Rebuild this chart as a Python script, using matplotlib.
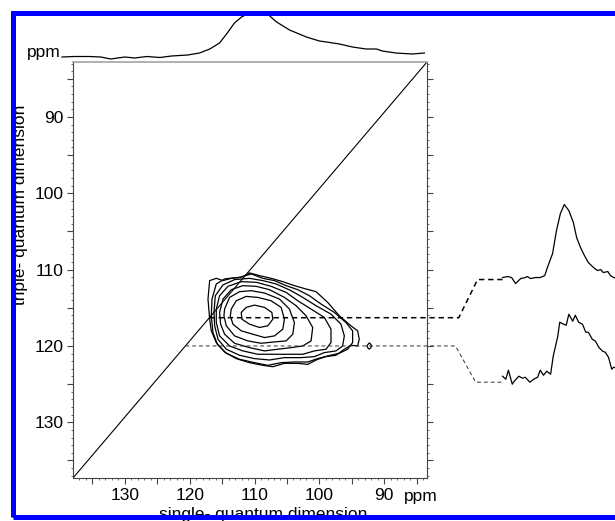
import numpy as np
import matplotlib
matplotlib.use("Agg")
from matplotlib import pyplot as plt
from matplotlib.patches import Rectangle
from matplotlib.ticker import FuncFormatter

plt.rcParams['font.family'] = ['Liberation Sans', 'DejaVu Sans']

# 2D contour levels (outer to inner), single-quantum ppm (x) / triple-quantum ppm (y)
c1_x = [116.92, 117.18, 116.92, 115.90, 114.87, 113.59, 112.05, 110.77, 109.23, 107.44, 105.64, 103.85,
        102.05, 100.51, 98.72, 96.92, 95.13, 94.10, 93.85, 94.10, 95.13, 96.15, 97.44, 98.98, 100.26,
        101.80, 103.33, 105.39, 107.18, 108.72, 110.77, 112.82, 114.62, 115.90, 116.67]
c1_y = [116.49, 113.86, 111.44, 111.14, 111.44, 111.14, 111.01, 110.43, 110.79, 111.14, 111.58, 112.10,
        112.54, 112.89, 114.29, 116.05, 117.36, 118.02, 119.12, 120.00, 119.91, 120.43, 121.22, 121.40,
        121.75, 122.41, 122.28, 122.28, 122.72, 122.54, 122.19, 121.66, 120.79, 119.56, 118.02]
c2_x = [116.67, 116.56, 115.90, 114.62, 112.31, 110.51, 108.72, 106.92, 105.13, 103.33, 101.54, 99.74,
        97.69, 95.90, 94.87, 94.87, 95.64, 96.92, 98.72, 100.26, 101.80, 103.85, 105.90, 107.95, 110.00,
        112.31, 114.36, 115.74, 116.41]
c2_y = [116.05, 113.86, 111.88, 111.22, 111.01, 110.57, 111.14, 111.44, 112.10, 112.63, 113.42, 114.51,
        115.61, 116.93, 118.02, 119.56, 120.43, 120.96, 121.31, 121.66, 122.10, 122.10, 122.19, 122.54,
        122.19, 121.75, 120.96, 119.78, 118.24]
c3_x = [116.26, 116.05, 114.87, 113.08, 110.77, 108.72, 106.67, 104.36, 102.56, 100.51, 98.21, 96.67,
        96.15, 96.41, 97.44, 99.23, 100.77, 102.82, 105.39, 107.69, 110.00, 112.31, 114.36, 115.64, 116.15]
c3_y = [115.61, 113.42, 112.01, 111.31, 111.14, 111.44, 111.88, 112.76, 113.64, 114.73, 115.83, 117.15,
        118.68, 120.00, 120.65, 120.87, 121.40, 121.53, 121.53, 121.84, 121.66, 121.22, 120.43, 119.12, 117.36]
c4_x = [115.90, 115.39, 114.10, 112.05, 109.74, 107.44, 105.13, 103.33, 101.28, 99.23, 98.21, 98.21,
        98.98, 100.77, 102.56, 104.87, 107.18, 109.49, 111.80, 113.85, 115.39, 115.90]
c4_y = [115.17, 113.42, 112.19, 111.58, 111.66, 112.19, 112.98, 114.08, 115.17, 116.27, 117.80, 119.56,
        120.43, 120.65, 121.09, 121.09, 121.09, 121.09, 120.65, 120.00, 118.68, 116.93]
c5_x = [115.39, 114.87, 113.59, 111.80, 109.74, 107.69, 105.39, 103.59, 102.05, 101.03, 101.28, 102.56,
        104.36, 106.41, 108.46, 110.77, 113.08, 114.62, 115.23]
c5_y = [115.61, 113.86, 112.63, 112.10, 112.19, 112.63, 113.64, 114.73, 116.05, 117.58, 119.34, 120.00,
        120.22, 120.43, 120.65, 120.22, 119.65, 118.46, 117.15]
c6_x = [114.62, 113.85, 112.31, 110.51, 108.46, 106.15, 104.62, 103.85, 104.10, 105.13, 106.92, 108.98,
        111.03, 113.08, 114.36, 114.72]
c6_y = [115.17, 113.64, 112.89, 112.76, 113.07, 113.86, 115.17, 116.93, 118.46, 119.34, 119.47, 119.65,
        119.34, 118.68, 117.36, 116.05]
c7_x = [113.59, 112.82, 111.28, 109.49, 107.44, 105.90, 105.39, 105.64, 106.92, 108.46, 110.26, 112.05,
        113.33, 113.74]
c7_y = [115.17, 114.08, 113.51, 113.64, 114.08, 114.95, 116.49, 117.80, 118.68, 118.90, 118.46, 118.02,
        117.15, 116.05]
c8_x = [112.05, 111.28, 110.00, 108.46, 107.33, 107.18, 107.95, 109.23, 110.77, 111.95]
c8_y = [115.61, 114.95, 114.65, 114.95, 115.61, 116.49, 117.36, 117.58, 117.15, 116.49]
island_x = [92.67, 92.45, 92.31, 92.10, 91.95, 92.10, 92.31, 92.50]
island_y = [120.00, 119.75, 119.60, 119.75, 120.00, 120.28, 120.42, 120.28]

contours = [(c1_x, c1_y), (c2_x, c2_y), (c3_x, c3_y), (c4_x, c4_y), (c5_x, c5_y),
            (c6_x, c6_y), (c7_x, c7_y), (c8_x, c8_y), (island_x, island_y)]

# single-quantum projection on top
proj_ppm = [139.7, 137.8, 135.5, 133.7, 132.2, 130.0, 128.5, 126.6, 124.6, 122.8, 120.3, 118.5, 116.9,
            115.4, 114.2, 113.1, 112.0, 110.8, 109.2, 108.0, 106.6, 104.6, 102.0, 100.0, 98.9, 96.9,
            94.9, 92.8, 91.2, 90.3, 88.2, 85.7, 83.8]
proj_int = [0, 0.5, 0.5, 0, -2, 0, -1, 0.5, -0.5, 1, 2, 4, 8, 14, 24, 34, 40, 44, 45, 43, 35, 27, 20,
            16, 15, 13, 10, 8, 8, 6, 4, 3, 4]

# slices taken at two triple-quantum positions
slice_rows = [116.3, 120.0]
upper_ppm = [138.0, 137.2, 136.6, 136.0, 135.2, 134.5, 134.2, 133.7, 132.9, 132.2, 131.5, 131.1, 130.3,
             129.7, 129.1, 128.5, 127.8, 127.1, 126.6, 126.0, 125.4, 124.8, 124.0, 123.4, 122.9, 122.5,
             121.8, 121.4, 120.9, 120.3]
upper_int = [2, 3, 2, -4, 1, 2, 3, 1, 2, 2, 4, 12, 26, 49, 66, 75, 69, 57, 42, 32, 24, 17, 12, 9, 10, 7,
             8, 4, 2, 1]
lower_ppm = [138.0, 137.5, 137.1, 136.5, 136.2, 135.5, 134.9, 134.5, 133.8, 133.2, 132.6, 132.2, 131.7,
             131.2, 130.6, 130.2, 129.5, 129.2, 128.6, 128.2, 127.8, 127.2, 126.8, 126.3, 125.7, 125.2,
             124.8, 124.2, 123.7, 123.2, 122.6, 122.2, 121.7, 121.2, 120.9, 120.3]
lower_int = [6, 3, 12, -2, 1, 6, 4, 5, 0, 3, 5, 12, 7, 11, 8, 26, 46, 60, 58, 57, 68, 61, 67, 60, 58, 50,
             50, 43, 41, 35, 31, 30, 25, 13, 15, 14]

W, H = 615, 521
xlim = (138.0, 83.4)
ylim = (137.3, 82.8)


def box(left, top, right, bottom):
    return [left / W, 1 - bottom / H, (right - left) / W, (bottom - top) / H]


def every_ten(v, pos):
    return '%d' % v if round(v) % 10 == 0 else ''


fig = plt.figure(figsize=(W / 100, H / 100), dpi=100)

ax = fig.add_axes(box(73, 62, 427, 478))
ax.set_xlim(xlim)
ax.set_ylim(ylim)
for side in ['left', 'bottom', 'right']:
    ax.spines[side].set_color('#444444')
    ax.spines[side].set_linewidth(0.8)
ax.spines['top'].set_color('#aaaaaa')
ax.spines['top'].set_linewidth(1.3)
ax.set_xticks(np.arange(85, 138, 5))
ax.set_xticks(np.arange(84, 138, 1), minor=True)
ax.set_yticks(np.arange(85, 137, 5))
ax.set_yticks(np.arange(83, 138, 1), minor=True)
ax.xaxis.set_major_formatter(FuncFormatter(every_ten))
ax.yaxis.set_major_formatter(FuncFormatter(every_ten))
ax.tick_params(which='major', direction='out', length=4, width=0.8, color='#444444',
               labelsize=12.5, pad=3, right=True)
ax.tick_params(which='minor', direction='out', length=1.6, width=0.6, color='#555555', right=True)
ax.text(0.935, -0.0255, 'ppm', transform=ax.transAxes, ha='left', va='top', fontsize=12.5)

# diagonal
ax.plot([xlim[0], xlim[1]], [ylim[0], ylim[1]], color='black', lw=0.8)

for cx, cy in contours:
    ax.fill(cx, cy, facecolor='none', edgecolor='black', lw=0.9)


def diag_x(y):
    return xlim[0] + (y - ylim[0]) * (xlim[1] - xlim[0]) / (ylim[1] - ylim[0])


# connectors from the diagonal out to the slices
up_row, low_row = slice_rows
up_level, low_level = 111.3, 124.75
slice_start = 71.75
ax.plot([diag_x(up_row), 78.5, 75.6, slice_start], [up_row, up_row, up_level, up_level],
        color='black', lw=1.1, ls=(0, (3.5, 2.5)), clip_on=False)
ax.plot([diag_x(low_row), 79.0, 75.9, slice_start], [low_row, low_row, low_level, low_level],
        color='#333333', lw=0.7, ls=(0, (4, 3)), clip_on=False)

# top projection
top = fig.add_axes(box(73, 15, 427, 57))
top.set_xlim(xlim)
top.set_ylim(0, 42)
top.axis('off')
top.plot(proj_ppm, proj_int, color='black', lw=0.9, clip_on=False)
fig.text(61 / W, 1 - 57 / H, 'ppm', ha='right', va='baseline', fontsize=12.5)


def fig_point(x, y):
    return fig.transFigure.inverted().transform(ax.transData.transform((x, y)))


for level, sx, sy in [(up_level, upper_ppm, upper_int), (low_level, lower_ppm, lower_int)]:
    fx, fy = fig_point(slice_start, level)
    sax = fig.add_axes([fx, fy, 120 / W, 80 / H])
    sax.set_xlim(138.0, 138.0 - 120 / 6.5)
    sax.set_ylim(0, 80)
    sax.axis('off')
    sax.plot(sx, sy, color='black', lw=0.9, clip_on=False)

fig.text(21 / W, 1 - 205 / H, 'triple- quantum dimension', rotation=90, ha='center', va='center',
         fontsize=12.5)
fig.text(263 / W, 1 - 519 / H, 'single- quantum dimension', ha='center', va='baseline', fontsize=12.5)

# blue frame
frame = Rectangle((12.5 / W, 1 - 516.5 / H), 700 / W, 504 / H, transform=fig.transFigure,
                  facecolor='none', edgecolor='#0000ff', lw=3.6, zorder=10)
fig.patches.append(frame)

fig.savefig('out.png', dpi=100)
